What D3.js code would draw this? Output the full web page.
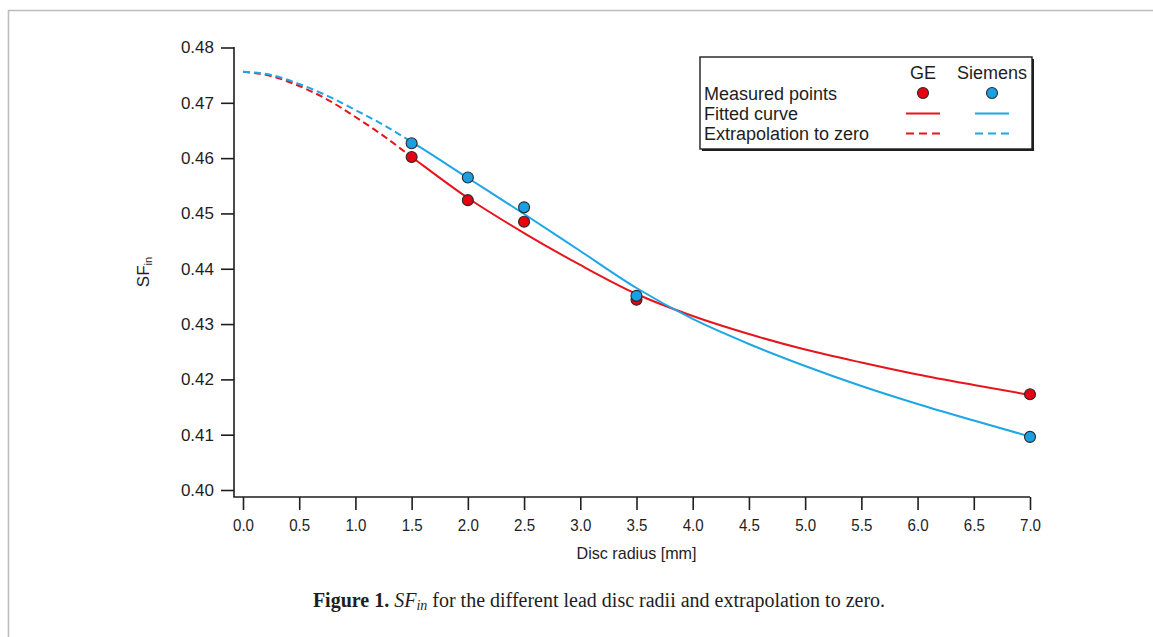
<!DOCTYPE html>
<html>
<head>
<meta charset="utf-8">
<script src="https://cdn.jsdelivr.net/npm/d3@7"></script>
<style>
  html, body { margin: 0; padding: 0; background: #fff; }
  svg { display: block; }
</style>
</head>
<body>
<svg id="chart" width="1153" height="637"></svg>
<script>
// Measured scatter factors (SF_in) per lead disc radius
const radii = [1.5, 2.0, 2.5, 3.5, 7.0];
const geMeasured = [0.4602, 0.4524, 0.4485, 0.4344, 0.4173];
const siemensMeasured = [0.4627, 0.4565, 0.4511, 0.4351, 0.4096];

// Fitted curves, sampled along the radius axis
const curveRadii = [0, 0.25, 0.5, 0.75, 1.0, 1.25, 1.5, 2.0, 2.5, 3.0, 3.5, 4.0, 4.5, 5.0, 5.5, 6.0, 6.5, 7.0];
const geCurve = [0.47563, 0.47485, 0.47304, 0.47059, 0.46744, 0.46402, 0.46021, 0.45279, 0.44646, 0.44068, 0.43544, 0.43146, 0.42820, 0.42540, 0.42305, 0.42088, 0.41898, 0.41718];
const siemensCurve = [0.47563, 0.47503, 0.47340, 0.47127, 0.46870, 0.46599, 0.46292, 0.45641, 0.44990, 0.44321, 0.43652, 0.43092, 0.42640, 0.42242, 0.41880, 0.41555, 0.41256, 0.40967];
const fitStart = 1.5; // curves are dashed below the smallest measured radius

const xTicks = [0, 0.5, 1, 1.5, 2, 2.5, 3, 3.5, 4, 4.5, 5, 5.5, 6, 6.5, 7];
const yTicks = [0.40, 0.41, 0.42, 0.43, 0.44, 0.45, 0.46, 0.47, 0.48];

const RED = "#e8141c";
const BLUE = "#1ea6e6";
const RED_DOT = "#e60012";
const BLUE_DOT = "#1a9fe3";
const INK = "#1e1e1e";
const FONT = "Liberation Sans, Arial, sans-serif";

const svg = d3.select("#chart");

// Page frame
svg.append("path")
  .attr("d", "M8.5,637 L8.5,10.5 L1153,10.5")
  .attr("fill", "none").attr("stroke", "#bdbdbd").attr("stroke-width", 1.6);

const x = d3.scaleLinear().domain([0, 7]).range([243, 1030]);
const y = d3.scaleLinear().domain([0.40, 0.48]).range([490, 47.5]);
const axisX = 234, axisY = 497;

// Axes
const yAxis = svg.append("g")
  .attr("transform", `translate(${axisX},0)`)
  .call(d3.axisLeft(y).tickValues(yTicks).tickSize(13).tickSizeOuter(0).tickPadding(7).tickFormat(d3.format(".2f")));
const xAxis = svg.append("g")
  .attr("transform", `translate(0,${axisY})`)
  .call(d3.axisBottom(x).tickValues(xTicks).tickSize(13).tickSizeOuter(0).tickPadding(9).tickFormat(d3.format(".1f")));
[yAxis, xAxis].forEach(g => {
  g.select(".domain").remove();
  g.selectAll(".tick line").attr("stroke", INK).attr("stroke-width", 1.6);
  g.selectAll(".tick text").attr("fill", INK).style("font-family", FONT).style("font-size", "17px");
});
xAxis.selectAll(".tick text").attr("textLength", 21).attr("lengthAdjust", "spacingAndGlyphs");
svg.append("path")
  .attr("d", `M${axisX},${y(0.48) - 0.5} L${axisX},${axisY} L${x(7)},${axisY}`)
  .attr("fill", "none").attr("stroke", INK).attr("stroke-width", 1.6);

// Axis titles
svg.append("text")
  .attr("x", x(3.5)).attr("y", 559)
  .attr("text-anchor", "middle").attr("fill", INK)
  .attr("textLength", 120).attr("lengthAdjust", "spacingAndGlyphs")
  .style("font-family", FONT).style("font-size", "17px")
  .text("Disc radius [mm]");
const yt = svg.append("text")
  .attr("transform", "translate(149,272) rotate(-90)")
  .attr("text-anchor", "middle").attr("fill", INK)
  .style("font-family", FONT).style("font-size", "17px");
yt.append("tspan").text("SF");
yt.append("tspan").attr("dy", 3).style("font-size", "11px").text("in");

// Curves: one smooth path each, split into a dashed extrapolated part
// (left of the first measured radius) and a solid fitted part via clipping
const defs = svg.append("defs");
defs.append("clipPath").attr("id", "clip-extrap")
  .append("rect").attr("x", 0).attr("y", 0).attr("width", x(fitStart)).attr("height", 637);
defs.append("clipPath").attr("id", "clip-fit")
  .append("rect").attr("x", x(fitStart)).attr("y", 0).attr("width", 1153 - x(fitStart)).attr("height", 637);

const line = d3.line().x(d => x(d[0])).y(d => y(d[1])).curve(d3.curveMonotoneX);
function drawCurve(values, color) {
  const pts = curveRadii.map((r, i) => [r, values[i]]);
  svg.append("path")
    .datum(pts).attr("d", line).attr("fill", "none")
    .attr("clip-path", "url(#clip-extrap)")
    .attr("stroke", color).attr("stroke-width", 2).attr("stroke-dasharray", "7,4");
  svg.append("path")
    .datum(pts).attr("d", line).attr("fill", "none")
    .attr("clip-path", "url(#clip-fit)")
    .attr("stroke", color).attr("stroke-width", 2);
}
drawCurve(geCurve, RED);
drawCurve(siemensCurve, BLUE);

// Measured points
function drawPoints(values, fill) {
  svg.append("g").selectAll("circle")
    .data(radii.map((r, i) => [r, values[i]]))
    .join("circle")
    .attr("cx", d => x(d[0])).attr("cy", d => y(d[1])).attr("r", 5.5)
    .attr("fill", fill).attr("stroke", "#2a2a2a").attr("stroke-width", 1.1);
}
drawPoints(geMeasured, RED_DOT);
drawPoints(siemensMeasured, BLUE_DOT);

// Legend
const lg = svg.append("g");
lg.append("rect").attr("x", 702).attr("y", 59).attr("width", 332).attr("height", 92).attr("fill", INK);
lg.append("rect").attr("x", 700).attr("y", 57).attr("width", 332).attr("height", 92)
  .attr("fill", "#fff").attr("stroke", INK).attr("stroke-width", 1.4);
const colGE = 923, colS = 992;
const legendText = (tx, ty, s, anchor) => lg.append("text")
  .attr("x", tx).attr("y", ty).attr("text-anchor", anchor || "start").attr("fill", INK)
  .style("font-family", FONT).style("font-size", "18px").text(s);
legendText(colGE, 78.5, "GE", "middle");
legendText(colS, 78.5, "Siemens", "middle");
legendText(704, 99.5, "Measured points");
legendText(704, 119.5, "Fitted curve");
legendText(704, 139.5, "Extrapolation to zero");
[[colGE, RED_DOT, RED], [colS, BLUE_DOT, BLUE]].forEach(([cx, dot, col]) => {
  lg.append("circle").attr("cx", cx).attr("cy", 93).attr("r", 5.5)
    .attr("fill", dot).attr("stroke", "#2a2a2a").attr("stroke-width", 1.1);
  lg.append("line").attr("x1", cx - 17).attr("x2", cx + 17).attr("y1", 113.5).attr("y2", 113.5)
    .attr("stroke", col).attr("stroke-width", 2);
  lg.append("line").attr("x1", cx - 17).attr("x2", cx + 17).attr("y1", 133.5).attr("y2", 133.5)
    .attr("stroke", col).attr("stroke-width", 2).attr("stroke-dasharray", "8,5");
});

// Caption
const cap = svg.append("text")
  .attr("x", 599).attr("y", 607).attr("text-anchor", "middle").attr("fill", INK)
  .style("font-family", "Liberation Serif, Times New Roman, serif").style("font-size", "20px");
cap.append("tspan").attr("font-weight", "bold").text("Figure 1. ");
cap.append("tspan").attr("font-style", "italic").text("SF");
cap.append("tspan").attr("font-style", "italic").attr("dy", 3).style("font-size", "14px").text("in");
cap.append("tspan").attr("dy", -3).text(" for the different lead disc radii and extrapolation to zero.");
</script>
</body>
</html>
